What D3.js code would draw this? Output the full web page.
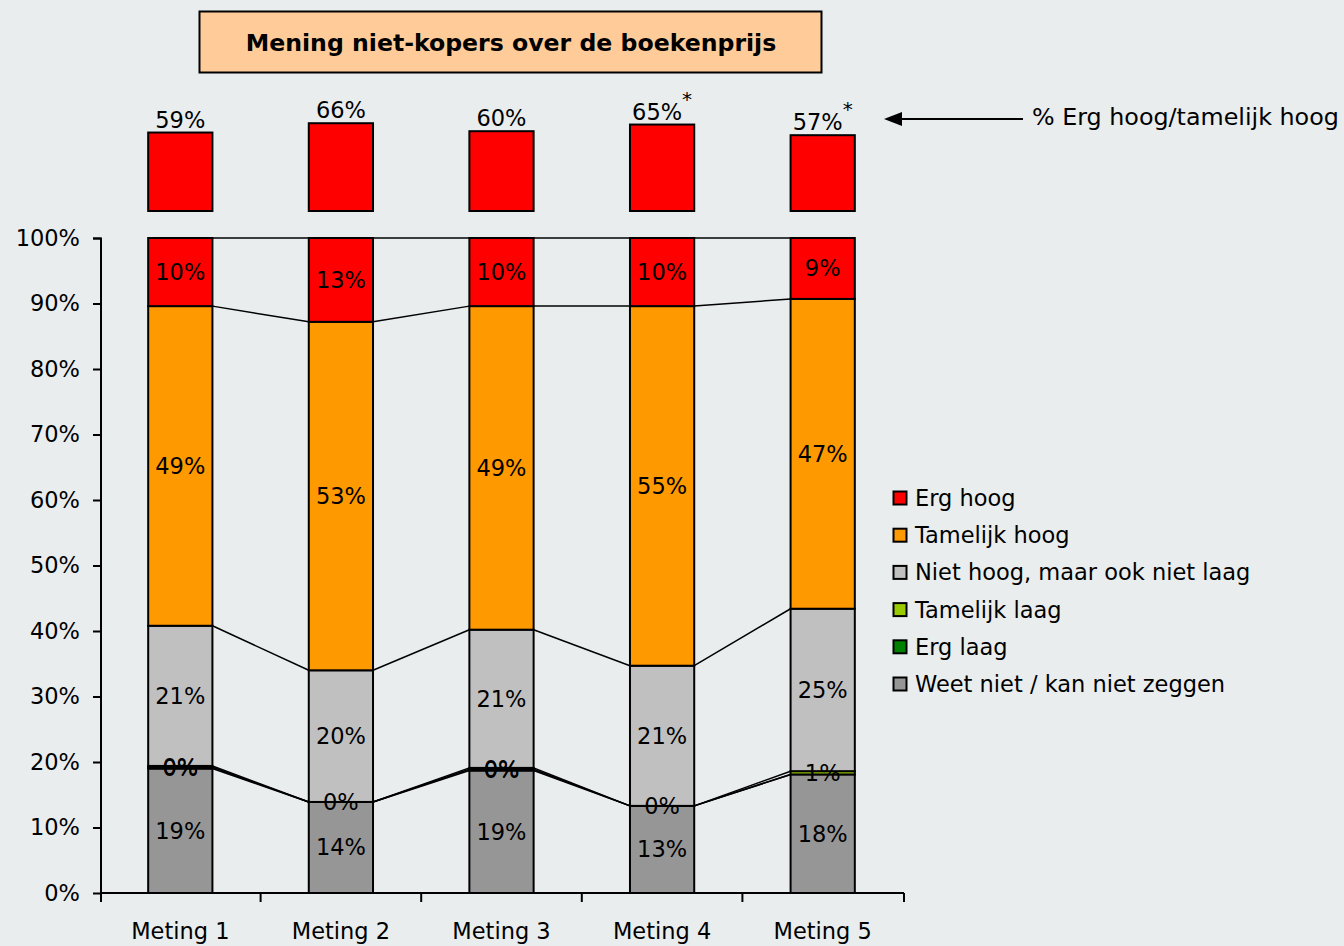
<!DOCTYPE html>
<html>
<head>
<meta charset="utf-8">
<script src="https://cdn.jsdelivr.net/npm/d3@7/dist/d3.min.js"></script>
<style>
  html, body { margin: 0; padding: 0; background: #E9EDEE; }
  svg { display: block; }
  text { font-family: "DejaVu Sans", Verdana, sans-serif; fill: #000; }
</style>
</head>
<body>
<svg id="chart" width="1344" height="946"></svg>
<script>
// Survey results: opinion of non-buyers about the book price, five measurements
const categories = ["Meting 1", "Meting 2", "Meting 3", "Meting 4", "Meting 5"];
const weetNiet = [19.0, 13.9, 18.7, 13.3, 18.1];
const ergLaag = [0.2, null, 0.2, null, null];
const tamelijkLaag = [0.2, 0.0, 0.2, 0.0, 0.5];
const nietHoogNietLaag = [21.4, 20.1, 21.1, 21.4, 24.8];
const tamelijkHoog = [48.8, 53.2, 49.4, 54.9, 47.3];
const ergHoog = [10.4, 12.8, 10.4, 10.4, 9.3];

// Share "erg hoog / tamelijk hoog" per measurement, with significance marks
const hoogTotaal = [59, 66, 60, 65, 57];
const significant = [false, false, false, true, true];

const yTicks = [0, 10, 20, 30, 40, 50, 60, 70, 80, 90, 100];
const title = "Mening niet-kopers over de boekenprijs";
const summaryLabel = "% Erg hoog/tamelijk hoog";

const series = [
  { key: "weetNiet", name: "Weet niet / kan niet zeggen", values: weetNiet, color: "#969696" },
  { key: "ergLaag", name: "Erg laag", values: ergLaag, color: "#008000" },
  { key: "tamelijkLaag", name: "Tamelijk laag", values: tamelijkLaag, color: "#99CC00" },
  { key: "nietHoog", name: "Niet hoog, maar ook niet laag", values: nietHoogNietLaag, color: "#C0C0C0" },
  { key: "tamelijkHoog", name: "Tamelijk hoog", values: tamelijkHoog, color: "#FF9900" },
  { key: "ergHoog", name: "Erg hoog", values: ergHoog, color: "#FF0000" }
];

const rows = categories.map((c, i) => {
  const r = { category: c };
  series.forEach(s => { r[s.key] = s.values[i]; });
  return r;
});

const svg = d3.select("#chart");
const FS = 22.5;

const x = d3.scaleBand().domain(categories).range([100, 903]).paddingInner(0.6).paddingOuter(0.3);
const y = d3.scaleLinear().domain([0, 100]).range([893, 238]);
const ySummary = d3.scaleLinear().domain([0, 100]).range([211, 78]);
const bw = x.bandwidth();

const stack = d3.stack()
  .keys(series.map(s => s.key))
  .value((d, k) => d[k] == null ? 0 : d[k]);
const stacked = stack(rows);

// Title box
svg.append("rect").attr("x", 199.5).attr("y", 11.5).attr("width", 622).attr("height", 61)
  .attr("fill", "#FFCC99").attr("stroke", "#000").attr("stroke-width", 2);
svg.append("text").attr("x", 511).attr("y", 43).attr("text-anchor", "middle")
  .attr("dominant-baseline", "central").attr("font-weight", "bold")
  .attr("font-size", 23.6).text(title);

// Series lines joining the segment tops of neighbouring bars
const lineG = svg.append("g");
stacked.forEach(layer => {
  for (let i = 0; i < categories.length - 1; i++) {
    lineG.append("line")
      .attr("x1", x(categories[i]) + bw).attr("y1", y(layer[i][1]))
      .attr("x2", x(categories[i + 1])).attr("y2", y(layer[i + 1][1]))
      .attr("stroke", "#000").attr("stroke-width", 1.5);
  }
});

// Stacked bars
const barG = svg.append("g");
stacked.forEach((layer, si) => {
  const s = series[si];
  barG.selectAll(null).data(layer).join("rect")
    .attr("x", (d, i) => x(categories[i]))
    .attr("y", d => y(d[1]))
    .attr("width", bw)
    .attr("height", d => Math.max(0, y(d[0]) - y(d[1])))
    .attr("fill", s.color)
    .attr("stroke", "#000").attr("stroke-width", 2);
});

// Segment value labels
const labG = svg.append("g");
stacked.forEach((layer, si) => {
  const s = series[si];
  layer.forEach((d, i) => {
    const v = s.values[i];
    if (v == null) return;
    labG.append("text")
      .attr("x", x(categories[i]) + bw / 2)
      .attr("y", y((d[0] + d[1]) / 2))
      .attr("text-anchor", "middle").attr("dominant-baseline", "central")
      .attr("font-size", FS)
      .text(Math.round(v) + "%");
  });
});

// Y axis
const yAxis = d3.axisLeft(y).tickValues(yTicks).tickFormat(d => d + "%").tickSize(8).tickPadding(13);
const yg = svg.append("g").attr("transform", "translate(101,0)").call(yAxis);
yg.select(".domain").attr("stroke", "#000").attr("stroke-width", 2).attr("d", "M-8,238.5H0V893");
yg.selectAll(".tick line").attr("stroke", "#000").attr("stroke-width", 2);
yg.selectAll(".tick text").attr("font-size", FS).attr("font-family", "DejaVu Sans, Verdana, sans-serif").attr("fill", "#000");

// X axis with tick marks between categories
const xg = svg.append("g");
xg.append("line").attr("x1", 101).attr("x2", 904).attr("y1", 893).attr("y2", 893)
  .attr("stroke", "#000").attr("stroke-width", 2);
categories.forEach((c, i) => {
  const bx = Math.max(101, x(c) + bw / 2 - x.step() / 2);
  xg.append("line").attr("x1", bx).attr("x2", bx).attr("y1", 893).attr("y2", 902)
    .attr("stroke", "#000").attr("stroke-width", 2);
  xg.append("text").attr("x", x(c) + bw / 2).attr("y", 931)
    .attr("text-anchor", "middle").attr("dominant-baseline", "central")
    .attr("font-size", FS).text(c);
});
xg.append("line").attr("x1", 904).attr("x2", 904).attr("y1", 893).attr("y2", 902)
  .attr("stroke", "#000").attr("stroke-width", 2);

// Summary boxes above the bars
const sumG = svg.append("g");
categories.forEach((c, i) => {
  sumG.append("rect")
    .attr("x", x(c)).attr("y", ySummary(hoogTotaal[i]))
    .attr("width", bw).attr("height", ySummary(0) - ySummary(hoogTotaal[i]))
    .attr("fill", "#FF0000").attr("stroke", "#000").attr("stroke-width", 2);
  const t = sumG.append("text")
    .attr("x", x(c) + bw / 2).attr("y", ySummary(hoogTotaal[i]) - 5)
    .attr("text-anchor", "middle").attr("font-size", FS);
  t.append("tspan").text(hoogTotaal[i] + "%");
  if (significant[i]) {
    t.append("tspan").attr("dy", -14).attr("dx", 0).attr("font-size", 20).text("*");
  }
});

// Arrow pointing to the summary boxes
svg.append("line").attr("x1", 1023).attr("y1", 119).attr("x2", 900).attr("y2", 119)
  .attr("stroke", "#000").attr("stroke-width", 2);
svg.append("path").attr("d", "M884,119 L902,112 L902,126 Z").attr("fill", "#000");
svg.append("text").attr("x", 1032).attr("y", 117).attr("dominant-baseline", "central")
  .attr("font-size", 23.8).text(summaryLabel);

// Legend, top series first
const legendOrder = series.slice().reverse();
const lg = svg.append("g");
legendOrder.forEach((s, i) => {
  const cy = 498 + i * 37.2;
  lg.append("rect").attr("x", 893.5).attr("y", cy - 6.5).attr("width", 13).attr("height", 13)
    .attr("fill", s.color).attr("stroke", "#000").attr("stroke-width", 2);
  lg.append("text").attr("x", 915).attr("y", cy).attr("dominant-baseline", "central")
    .attr("font-size", FS).text(s.name);
});
</script>
</body>
</html>
